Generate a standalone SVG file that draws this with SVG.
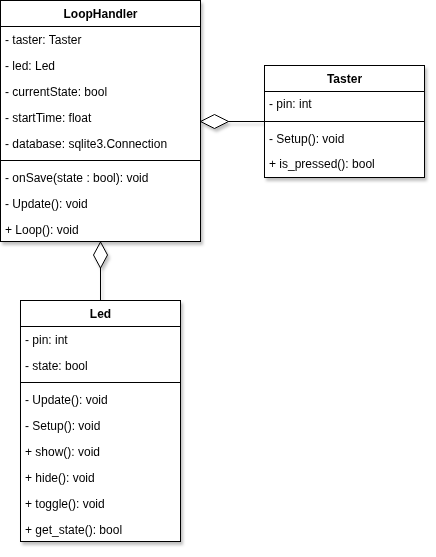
<svg xmlns="http://www.w3.org/2000/svg" width="436" height="557" viewBox="0 0 436 557">
<defs>
<filter id="sh" x="-10%" y="-10%" width="130%" height="130%">
<feDropShadow dx="2" dy="3" stdDeviation="1.5" flood-color="#000" flood-opacity="0.25"/>
</filter>
</defs>
<style>
.box{fill:#fff;stroke:#000;stroke-width:1}
.ln{stroke:#000;stroke-width:1;fill:none}
text{font-family:"Liberation Sans",Arial,sans-serif;font-size:12px;fill:#000}
.t{font-weight:bold;text-anchor:middle}
</style>
<rect width="436" height="557" fill="#fff"/>
<g id="connectors" filter="url(#sh)">
<path class="ln" d="M228 121.5 H264.5"/>
<path class="box" d="M200.5 121.5 L214.5 114.5 L228.5 121.5 L214.5 128.5 Z"/>
<path class="ln" d="M100.5 268 V300.5"/>
<path class="box" d="M100.5 242 L107.5 255 L100.5 268 L93.5 255 Z"/>
</g>
<g id="LoopHandler" filter="url(#sh)">
<rect class="box" x="0.5" y="0.5" width="200" height="241"/>
<path class="ln" d="M0.5 26.5 H200.5 M0.5 160.5 H200.5"/>
<text class="t" x="100.5" y="18">LoopHandler</text>
<text x="5" y="44">- taster: Taster</text>
<text x="5" y="70">- led: Led</text>
<text x="5" y="96">- currentState: bool</text>
<text x="5" y="122">- startTime: float</text>
<text x="5" y="148">- database: sqlite3.Connection</text>
<text x="5" y="182">- onSave(state : bool): void</text>
<text x="5" y="208">- Update(): void</text>
<text x="5" y="234">+ Loop(): void</text>
</g>
<g id="Taster" filter="url(#sh)">
<rect class="box" x="264.5" y="65.5" width="160" height="112"/>
<path class="ln" d="M264.5 91.5 H424.5 M264.5 121.5 H424.5"/>
<text class="t" x="344.5" y="83">Taster</text>
<text x="269" y="108">- pin: int</text>
<text x="269" y="143">- Setup(): void</text>
<text x="269" y="168">+ is_pressed(): bool</text>
</g>
<g id="Led" filter="url(#sh)">
<rect class="box" x="20.5" y="300.5" width="160" height="241"/>
<path class="ln" d="M20.5 326.5 H180.5 M20.5 382.5 H180.5"/>
<text class="t" x="100.5" y="318">Led</text>
<text x="25" y="344">- pin: int</text>
<text x="25" y="370">- state: bool</text>
<text x="25" y="404">- Update(): void</text>
<text x="25" y="430">- Setup(): void</text>
<text x="25" y="456">+ show(): void</text>
<text x="25" y="482">+ hide(): void</text>
<text x="25" y="508">+ toggle(): void</text>
<text x="25" y="534">+ get_state(): bool</text>
</g>
</svg>
